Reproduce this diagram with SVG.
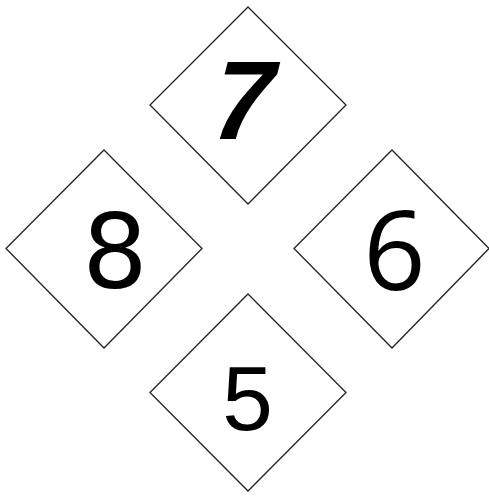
<svg xmlns="http://www.w3.org/2000/svg" width="489" height="498" viewBox="0 0 489 498">
<style>
.d{fill:#fff;stroke:#222;stroke-width:1.3}
.t{text-anchor:middle;fill:#000}
</style>
<rect width="489" height="498" fill="#fff"/>
<g id="n7"><polygon class="d" points="248,7 346,105 248,204 150,105"/><text class="t" transform="translate(235,139) skewX(-14)" x="0" y="0" font-family="Liberation Sans, sans-serif" font-weight="bold" font-size="112">7</text></g>
<g id="n8"><polygon class="d" points="104,150 202,248.5 104,348 6,248.5"/><text class="t" x="115" y="288" font-family="DejaVu Sans, sans-serif" font-size="103">8</text></g>
<g id="n6"><polygon class="d" points="392,150 489,248.5 392,348 294,248.5"/><text class="t" x="394.5" y="290" font-family="Open Sans, sans-serif" font-size="109">6</text></g>
<g id="n5"><polygon class="d" points="248,294 346,392.5 248,491 150,392.5"/><text class="t" x="247.5" y="430" font-family="Liberation Sans, sans-serif" font-size="91">5</text></g>
<g id="connectors"></g>
</svg>
